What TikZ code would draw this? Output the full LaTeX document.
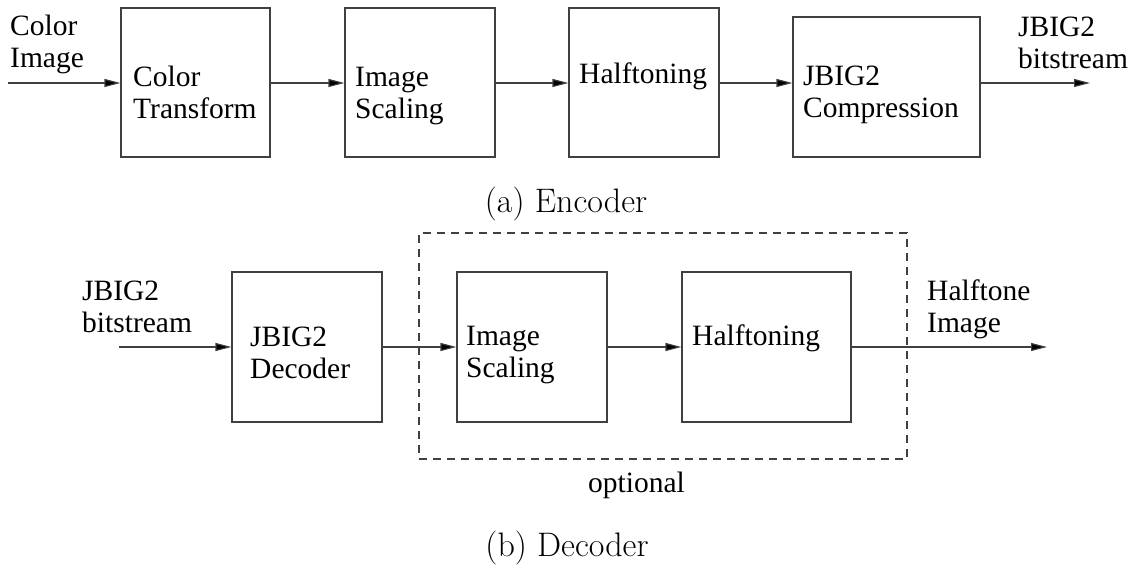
\documentclass[tikz,border=0pt]{standalone}
\usepackage{fontspec}
\newfontfamily\tms{Liberation Serif}
\usetikzlibrary{arrows.meta}
\begin{document}
\begin{tikzpicture}[x=1pt,y=-1pt,
  box/.style={draw=black!75,line width=1.1pt,inner sep=0pt},
  conn/.style={draw=black!75,line width=1.1pt,-{Triangle[length=16pt,width=8pt,fill=black]}},
  txt/.style={inner sep=0pt,anchor=base west,font=\tms\fontsize{29.5}{32}\selectfont},
  captxt/.style={inner sep=0pt,anchor=base,font=\fontsize{34}{36}\selectfont},
  optbox/.style={draw=black!75,line width=1.1pt,dash pattern=on 8pt off 6pt}]
\useasboundingbox (0,0) rectangle (1136,569);
% encoder
\node[box,minimum width=149pt,minimum height=149pt] (ct) at (195.5,82.5) {};
\node[box,minimum width=150pt,minimum height=149pt] (is1) at (420,82.5) {};
\node[box,minimum width=150pt,minimum height=149pt] (ht1) at (644,82.5) {};
\node[box,minimum width=187pt,minimum height=140pt] (jc) at (886.5,87) {};
\coordinate (in1) at (8,83);
\coordinate (out1) at (1090,83);
\draw[conn] (in1) -- (in1 -| ct.west);
\draw[conn] (ct.east |- in1) -- (is1.west |- in1);
\draw[conn] (is1.east |- in1) -- (ht1.west |- in1);
\draw[conn] (ht1.east |- in1) -- (jc.west |- in1);
\draw[conn] (jc.east |- in1) -- (out1);
\node[txt] (lci) at (10,36) {\vtop{\hbox{Color}\hbox{Image}}};
\node[txt] (tct) at (133,87) {\vtop{\hbox{Color}\hbox{Transform}}};
\node[txt] (tis1) at (355,87) {\vtop{\hbox{Image}\hbox{Scaling}}};
\node[txt] (tht1) at (579,84) {Halftoning};
\node[txt] (tjc) at (803,86) {\vtop{\hbox{JBIG2}\hbox{Compression}}};
\node[txt] (ljb1) at (1018,37) {\vtop{\hbox{JBIG2}\hbox{bitstream}}};
\node[captxt] (capa) at (566,213) {(a) Encoder};
% decoder
\node[optbox,inner sep=0pt,minimum width=488pt,minimum height=226pt] (opt) at (663,346) {};
\node[box,minimum width=150pt,minimum height=150pt] (dec) at (307,347) {};
\node[box,minimum width=150pt,minimum height=150pt] (is2) at (532,347) {};
\node[box,minimum width=169pt,minimum height=150pt] (ht2) at (766.5,347) {};
\coordinate (in2) at (119,347);
\coordinate (out2) at (1047,347);
\draw[conn] (in2) -- (dec.west);
\draw[conn] (dec.east) -- (is2.west);
\draw[conn] (is2.east) -- (ht2.west);
\draw[conn] (ht2.east) -- (out2);
\node[txt] (ljb2) at (82,301) {\vtop{\hbox{JBIG2}\hbox{bitstream}}};
\node[txt] (tdec) at (250,347) {\vtop{\hbox{JBIG2}\hbox{Decoder}}};
\node[txt] (tis2) at (466,346) {\vtop{\hbox{Image}\hbox{Scaling}}};
\node[txt] (tht2) at (692,346) {Halftoning};
\node[txt] (lhi) at (927,301) {\vtop{\hbox{Halftone}\hbox{Image}}};
\node[txt] (lopt) at (588,492) {optional};
\node[captxt] (capb) at (567,556) {(b) Decoder};
\end{tikzpicture}
\end{document}
